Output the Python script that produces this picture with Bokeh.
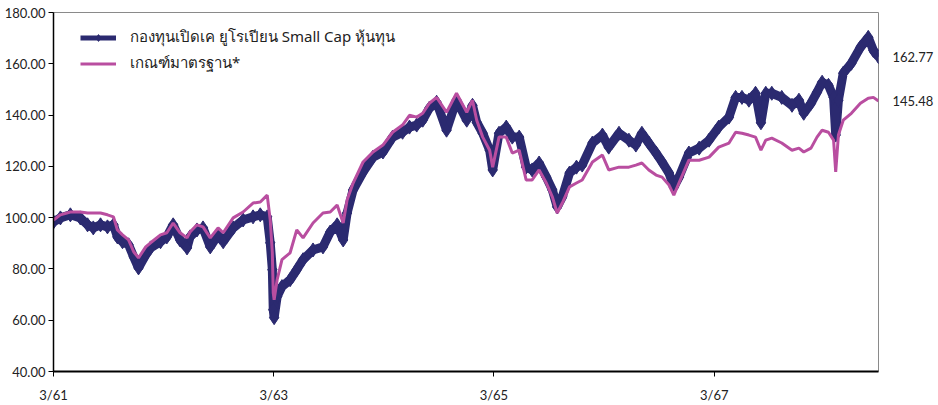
import pandas as pd
from bokeh.plotting import figure
from bokeh.models import Range1d, FixedTicker, Legend, LegendItem, LinearAxis
from bokeh.embed import file_html
from bokeh.resources import INLINE

dates = [
    "2018-03-01", "2018-03-24", "2018-04-26", "2018-05-29", "2018-06-22", "2018-07-11", "2018-08-04", "2018-08-27", "2018-09-16", "2018-09-29",
    "2018-10-16", "2018-11-05", "2018-11-22", "2018-12-08", "2019-01-01", "2019-01-17", "2019-02-19", "2019-03-12", "2019-04-02", "2019-04-25",
    "2019-05-18", "2019-05-28", "2019-06-20", "2019-07-10", "2019-08-03", "2019-08-29", "2019-09-15", "2019-10-18", "2019-11-20", "2019-12-23",
    "2020-01-16", "2020-02-08", "2020-02-18", "2020-02-25", "2020-02-28", "2020-03-02", "2020-03-12", "2020-03-28", "2020-04-24", "2020-05-16",
    "2020-06-06", "2020-07-09", "2020-08-11", "2020-09-04", "2020-09-27", "2020-10-17", "2020-10-30", "2020-11-19", "2020-12-22", "2021-01-24",
    "2021-02-26", "2021-03-30", "2021-05-02", "2021-05-25", "2021-06-18", "2021-07-08", "2021-07-30", "2021-08-23", "2021-09-25", "2021-10-28",
    "2021-12-01", "2021-12-20", "2022-01-03", "2022-01-23", "2022-02-15", "2022-02-25", "2022-03-18", "2022-04-11", "2022-05-01", "2022-05-24",
    "2022-06-16", "2022-07-06", "2022-07-29", "2022-08-22", "2022-09-11", "2022-09-27", "2022-10-14", "2022-11-07", "2022-11-30", "2022-12-19",
    "2023-01-22", "2023-02-24", "2023-03-17", "2023-04-20", "2023-05-23", "2023-06-15", "2023-07-05", "2023-07-28", "2023-08-21", "2023-09-10",
    "2023-10-03", "2023-10-19", "2023-11-05", "2023-12-08", "2024-01-11", "2024-02-13", "2024-03-16", "2024-04-19", "2024-05-11", "2024-06-01",
    "2024-06-24", "2024-07-16", "2024-08-03", "2024-08-19", "2024-09-08", "2024-10-11", "2024-11-14", "2024-12-07", "2024-12-23", "2025-01-16",
    "2025-02-05", "2025-02-22", "2025-03-15", "2025-04-01", "2025-04-08", "2025-04-17", "2025-05-03", "2025-05-30", "2025-06-29", "2025-07-25",
    "2025-08-11", "2025-08-28",
]

fund = [
    98.3, 99.9, 101.1, 99.9, 97.2, 96.0, 97.2, 96.4, 97.2, 92.5,
    90.6, 89.4, 84.7, 80.4, 85.5, 88.2, 90.6, 92.5, 97.2, 91.3,
    88.2, 92.5, 95.2, 96.0, 88.6, 93.3, 90.6, 96.0, 99.1, 100.3,
    101.1, 100.3, 90.2, 79.7, 64.1, 61.0, 69.2, 73.1, 75.8, 79.7,
    83.6, 87.4, 88.6, 94.4, 97.2, 91.3, 101.8, 110.8, 117.8, 123.6,
    125.6, 131.4, 133.3, 135.3, 136.1, 138.0, 142.7, 145.0, 134.1, 145.8,
    138.0, 143.8, 137.2, 132.9, 126.3, 118.6, 132.9, 135.3, 131.4, 131.4,
    119.7, 118.6, 121.3, 115.8, 110.8, 104.2, 108.1, 117.4, 119.7, 120.5,
    129.1, 132.2, 127.5, 132.9, 130.2, 128.3, 132.9, 129.1, 125.2, 121.7,
    117.4, 111.9, 115.8, 125.2, 127.1, 130.2, 135.3, 139.2, 146.9, 146.9,
    145.8, 148.5, 137.0, 148.5, 148.5, 146.9, 143.8, 145.8, 140.7, 144.6,
    148.9, 152.8, 151.6, 146.9, 132.2, 145.8, 156.3, 160.2, 166.4, 170.3,
    165.2, 162.77,
]

bench = [
    99.1, 101.1, 102.2, 102.2, 101.8, 101.8, 101.8, 101.1, 100.3, 95.2,
    93.3, 91.3, 86.7, 84.3, 88.6, 90.2, 93.3, 94.1, 97.9, 94.1,
    92.1, 94.4, 97.2, 96.4, 92.1, 96.0, 94.1, 99.9, 102.2, 105.7,
    106.1, 108.8, 99.1, 86.3, 70.7, 68.0, 75.8, 83.6, 86.3, 95.2,
    92.1, 97.9, 101.8, 102.2, 104.9, 97.9, 106.9, 113.5, 121.7, 125.6,
    128.3, 133.3, 136.1, 139.9, 139.2, 140.7, 144.6, 146.9, 141.1, 148.5,
    141.1, 145.8, 138.0, 131.4, 126.3, 119.7, 131.4, 131.4, 125.2, 126.3,
    114.7, 114.7, 118.6, 113.5, 108.1, 101.8, 105.7, 112.0, 113.5, 114.7,
    121.7, 124.4, 118.6, 119.7, 119.7, 120.5, 121.3, 118.6, 116.6, 115.8,
    112.7, 108.8, 113.5, 122.4, 122.4, 123.6, 127.5, 129.1, 133.3, 132.9,
    132.2, 131.4, 126.3, 130.2, 131.0, 129.1, 126.3, 127.1, 125.6, 127.1,
    131.4, 134.1, 133.3, 130.2, 117.8, 132.2, 138.0, 140.7, 144.6, 146.6,
    146.9, 145.48,
]

tick_dates = ["2018-03-01", "2020-03-01", "2022-03-01", "2024-03-01"]
tick_labels = ["3/61", "3/63", "3/65", "3/67"]
y_ticks = [40, 60, 80, 100, 120, 140, 160, 180]

fund_name = "กองทุนเปิดเค ยูโรเปียน Small Cap หุ้นทุน"
bench_name = "เกณฑ์มาตรฐาน*"

NAVY = "#2B2A70"
MAGENTA = "#B94EA0"
FONT = "Lato"

dt = pd.to_datetime(dates)
tick_ms = [pd.Timestamp(d).value // 10**6 for d in tick_dates]

p = figure(width=936, height=405, x_axis_type="datetime",
           output_backend="svg", toolbar_location=None,
           x_range=Range1d(dt[0], dt[-1]), y_range=Range1d(40, 180),
           min_border_left=53, min_border_right=56, min_border_top=12,
           min_border_bottom=33)

# thick band (not in legend) + thinner line and diamonds (shown in legend)
p.line(dt, fund, line_width=9, color=NAVY)
kl = p.line(dt, fund, line_width=5, color=NAVY)
km = p.scatter(dt, fund, marker="diamond", size=14, color=NAVY)
bl = p.line(dt, bench, line_width=3, color=MAGENTA)

legend = Legend(items=[LegendItem(label=fund_name, renderers=[kl, km]),
                       LegendItem(label=bench_name, renderers=[bl])],
                location=(27, 296), orientation="vertical")
legend.glyph_width = 36
legend.glyph_height = 17
legend.label_standoff = 14
legend.spacing = 2
legend.padding = 0
legend.margin = 0
legend.border_line_color = None
legend.background_fill_alpha = 0
legend.label_text_font = "Noto Sans"
legend.label_text_font_size = "15px"
legend.label_text_color = "#222222"
p.add_layout(legend)

p.xgrid.grid_line_color = None
p.ygrid.grid_line_color = None
p.outline_line_color = "#8a8a8a"
p.outline_line_width = 1

p.xaxis.ticker = FixedTicker(ticks=tick_ms)
p.xaxis.major_label_overrides = {t: l for t, l in zip(tick_ms, tick_labels)}
p.yaxis.ticker = FixedTicker(ticks=y_ticks)
p.yaxis.major_label_overrides = {v: f"{v:.2f}" for v in y_ticks}

for ax in (p.xaxis, p.yaxis):
    ax.axis_line_color = "#000000"
    ax.major_tick_line_color = "#000000"
    ax.minor_tick_line_color = None
    ax.major_tick_in = 0
    ax.major_tick_out = 5
    ax.major_label_text_font = FONT
    ax.major_label_text_font_size = "13px"
    ax.major_label_text_color = "#222222"
p.xaxis.axis_line_width = 2
p.yaxis.axis_line_width = 1.5
p.xaxis.major_label_standoff = 10
p.yaxis.major_label_standoff = 3

end_vals = [fund[-1], bench[-1]]
right = LinearAxis(ticker=FixedTicker(ticks=end_vals),
                   major_label_overrides={v: f"{v:.2f}" for v in end_vals})
right.axis_line_color = None
right.major_tick_line_color = None
right.minor_tick_line_color = None
right.major_label_standoff = 8
right.major_label_text_font = FONT
right.major_label_text_font_size = "13px"
right.major_label_text_color = "#222222"
p.add_layout(right, "right")

open("out.html", "w").write(file_html(p, INLINE))
